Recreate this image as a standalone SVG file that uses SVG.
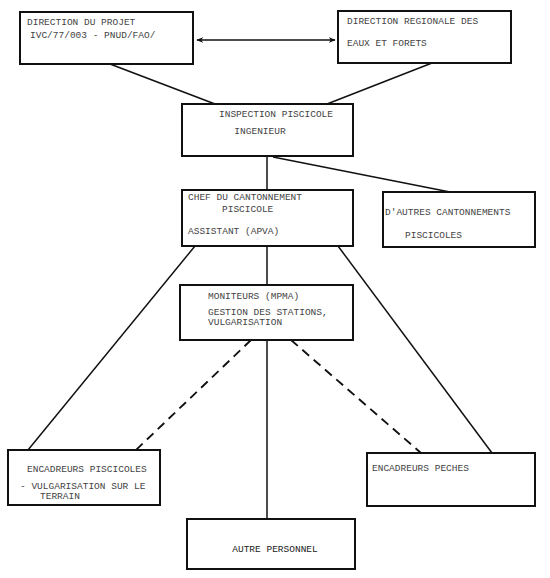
<svg xmlns="http://www.w3.org/2000/svg" width="550" height="578" viewBox="0 0 550 578">
<style>
.box{fill:#fff;stroke:#111;stroke-width:2}
.ln{stroke:#111;stroke-width:1.5;fill:none}
.dash{stroke:#111;stroke-width:1.9;fill:none;stroke-dasharray:9 6}
text{font-family:"Liberation Mono",monospace;font-size:9.5px;fill:#444}
.dark{fill:#222}
</style>
<defs>
<marker id="ah" viewBox="0 0 10 10" refX="9" refY="5" markerWidth="7" markerHeight="7" orient="auto-start-reverse" markerUnits="userSpaceOnUse">
<path d="M0,1 L10,5 L0,9 L3,5 Z" fill="#111"/>
</marker>
</defs>
<rect width="550" height="578" fill="#fff"/>
<g id="connectors">
<line class="ln" x1="197" y1="40" x2="335" y2="40" marker-start="url(#ah)" marker-end="url(#ah)"/>
<line class="ln" x1="110" y1="64" x2="215" y2="104"/>
<line class="ln" x1="432" y1="63" x2="327" y2="104"/>
<line class="ln" x1="267" y1="156" x2="267" y2="190"/>
<line class="ln" x1="273" y1="157" x2="450" y2="192"/>
<line class="ln" x1="195" y1="246" x2="28" y2="450"/>
<line class="ln" x1="338" y1="246" x2="492" y2="453"/>
<line class="ln" x1="267" y1="246" x2="267" y2="285"/>
<line class="dash" x1="251" y1="340" x2="136" y2="450"/>
<line class="dash" x1="291" y1="340" x2="421" y2="453"/>
<line class="ln" x1="267" y1="340" x2="267" y2="519"/>
</g>
<g id="direction-projet">
<rect class="box" x="20" y="12" width="173" height="52"/>
<text x="27" y="25">DIRECTION DU PROJET</text>
<text x="30" y="38">IVC/77/003 - PNUD/FAO/</text>
</g>
<g id="direction-regionale">
<rect class="box" x="338" y="11" width="173" height="52"/>
<text x="347" y="24">DIRECTION REGIONALE DES</text>
<text x="347" y="46">EAUX ET FORETS</text>
</g>
<g id="inspection">
<rect class="box" x="182" y="104" width="171" height="52"/>
<text x="276" y="117" text-anchor="middle">INSPECTION PISCICOLE</text>
<text x="260" y="134" text-anchor="middle">INGENIEUR</text>
</g>
<g id="chef-cantonnement">
<rect class="box" x="182" y="190" width="171" height="56"/>
<text x="188" y="200">CHEF DU CANTONNEMENT</text>
<text x="222" y="212">PISCICOLE</text>
<text x="188" y="234">ASSISTANT (APVA)</text>
</g>
<g id="autres-cantonnements">
<rect class="box" x="383" y="192" width="152" height="55"/>
<text x="385" y="215">D'AUTRES CANTONNEMENTS</text>
<text x="405" y="238">PISCICOLES</text>
</g>
<g id="moniteurs">
<rect class="box" x="180" y="285" width="173" height="55"/>
<text x="208" y="299">MONITEURS (MPMA)</text>
<text x="208" y="315">GESTION DES STATIONS,</text>
<text x="208" y="325">VULGARISATION</text>
</g>
<g id="encadreurs-piscicoles">
<rect class="box" x="8" y="450" width="152" height="55"/>
<text x="27" y="472">ENCADREURS PISCICOLES</text>
<text x="20" y="489">- VULGARISATION SUR LE</text>
<text x="40" y="499">TERRAIN</text>
</g>
<g id="encadreurs-peches">
<rect class="box" x="367" y="453" width="168" height="53"/>
<text x="372" y="471">ENCADREURS PECHES</text>
</g>
<g id="autre-personnel">
<rect class="box" x="187" y="519" width="168" height="50"/>
<text class="dark" x="275" y="552" text-anchor="middle">AUTRE PERSONNEL</text>
</g>
</svg>
